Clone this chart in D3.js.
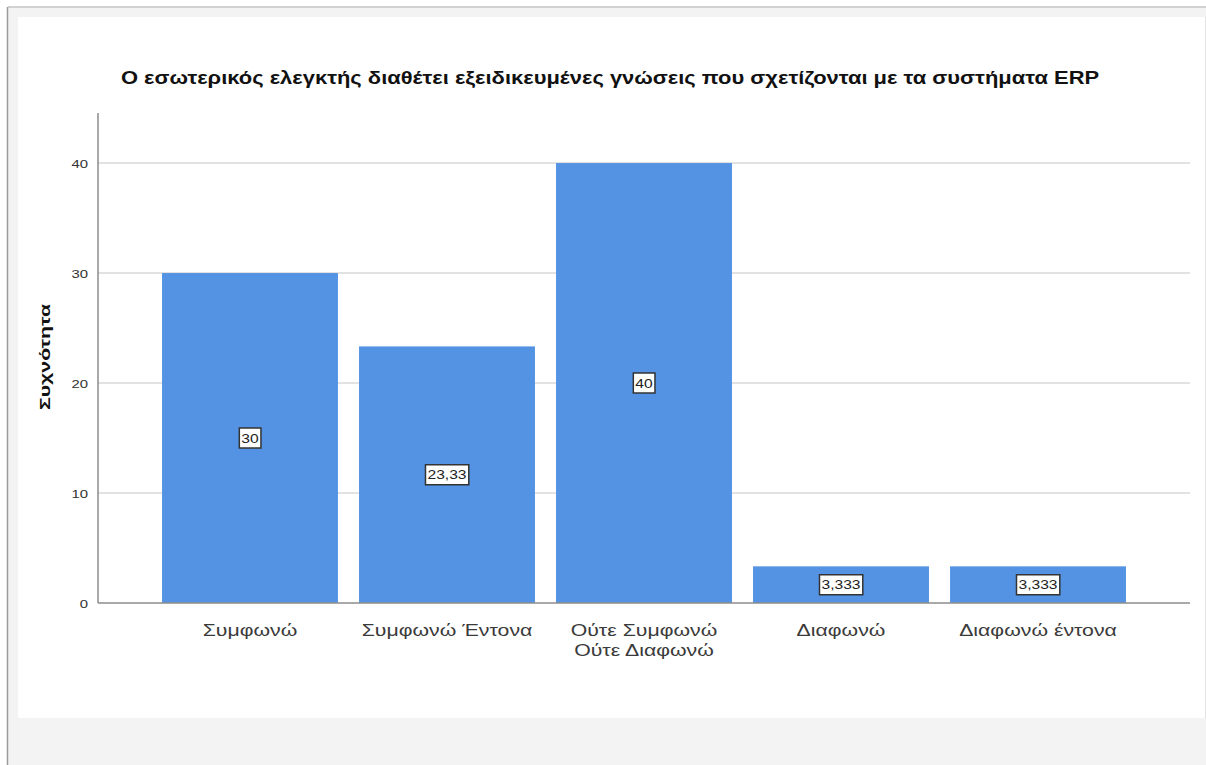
<!DOCTYPE html>
<html>
<head>
<meta charset="utf-8">
<script src="https://cdn.jsdelivr.net/npm/d3@7"></script>
<style>
  html, body { margin: 0; padding: 0; background: #ffffff; }
  svg { display: block; }
</style>
</head>
<body>
<script>
// Chart data
const categories = [
  ["Συμφωνώ"],
  ["Συμφωνώ Έντονα"],
  ["Ούτε Συμφωνώ", "Ούτε Διαφωνώ"],
  ["Διαφωνώ"],
  ["Διαφωνώ έντονα"]
];
const frequencies = [30, 23.33, 40, 3.333, 3.333];
const valueLabels = ["30", "23,33", "40", "3,333", "3,333"];
const yTicks = [0, 10, 20, 30, 40];
const chartTitle = "Ο εσωτερικός ελεγκτής διαθέτει εξειδικευμένες γνώσεις που σχετίζονται με τα συστήματα ERP";
const yTitle = "Συχνότητα";

const W = 1206, H = 765;
const FONT = "Liberation Sans, Arial, sans-serif";
const svg = d3.select("body").append("svg").attr("width", W).attr("height", H);

// Text drawn with a wide horizontal stretch, like the viewer's rendering
function wideText(parent, x, y, str, size, sx, opts = {}) {
  const g = parent.append("g")
    .attr("transform", `translate(${x},${y}) ${opts.rotate ? `rotate(${opts.rotate})` : ""} scale(${sx},1)`);
  const t = g.append("text")
    .attr("x", 0).attr("y", 0)
    .attr("text-anchor", opts.anchor || "middle")
    .attr("font-family", FONT)
    .attr("font-size", size)
    .attr("font-weight", opts.weight || "normal")
    .attr("fill", opts.fill || "#333")
    .text(str);
  return { g, t };
}

// Outer frame: light gray page with a white panel
svg.append("rect").attr("x", 0).attr("y", 0).attr("width", W).attr("height", H).attr("fill", "#ffffff");
svg.append("rect").attr("x", 8).attr("y", 7).attr("width", W - 8).attr("height", H - 7).attr("fill", "#f3f3f3");
svg.append("line").attr("x1", 8).attr("x2", W).attr("y1", 7).attr("y2", 7).attr("stroke", "#c4c4c4").attr("stroke-width", 1.5);
svg.append("line").attr("x1", 7.5).attr("x2", 7.5).attr("y1", 7).attr("y2", H).attr("stroke", "#9a9a9a").attr("stroke-width", 1.5);
svg.append("rect").attr("x", 18).attr("y", 17).attr("width", 1187).attr("height", 701).attr("fill", "#ffffff");
svg.append("line").attr("x1", 1205.5).attr("x2", 1205.5).attr("y1", 17).attr("y2", 718).attr("stroke", "#e6e6e6");

// Plot area
const plot = { left: 98, right: 1190, top: 113, bottom: 603 };

const y = d3.scaleLinear().domain([0, 44.55]).range([plot.bottom, plot.top]);
const x = d3.scaleBand()
  .domain(d3.range(categories.length))
  .range([plot.left, plot.right])
  .paddingInner(0.107)
  .paddingOuter(0.325);

// Horizontal grid lines
svg.append("g")
  .selectAll("line")
  .data(yTicks.filter(t => t > 0))
  .join("line")
  .attr("x1", plot.left).attr("x2", plot.right)
  .attr("y1", d => y(d)).attr("y2", d => y(d))
  .attr("stroke", "#d9d9d9").attr("stroke-width", 1.5);

// Bars
svg.append("g")
  .selectAll("rect")
  .data(frequencies)
  .join("rect")
  .attr("x", (d, i) => x(i))
  .attr("width", x.bandwidth())
  .attr("y", d => y(d))
  .attr("height", d => y(0) - y(d))
  .attr("fill", "#5493e3");

// Y axis: tick positions from d3's axis, labels drawn stretched
const yAxis = d3.axisLeft(y).tickValues(yTicks).tickSize(0).tickFormat(d3.format("d"));
const gy = svg.append("g").attr("transform", `translate(${plot.left},0)`).call(yAxis);
gy.select(".domain").remove();
gy.selectAll(".tick text").remove();
gy.selectAll(".tick").each(function (d) {
  wideText(d3.select(this), -10, 4, d3.format("d")(d), 11, 1.35, { anchor: "end", fill: "#333" });
});
svg.append("line").attr("x1", plot.left).attr("x2", plot.left)
  .attr("y1", plot.top).attr("y2", plot.bottom)
  .attr("stroke", "#8c8c8c").attr("stroke-width", 1.5);

// X baseline
svg.append("line").attr("x1", plot.left).attr("x2", plot.right)
  .attr("y1", y(0)).attr("y2", y(0))
  .attr("stroke", "#8c8c8c").attr("stroke-width", 1.5);

// Category labels
const xl = svg.append("g");
categories.forEach((lines, i) => {
  lines.forEach((ln, j) => {
    wideText(xl, x(i) + x.bandwidth() / 2, 636 + j * 20, ln, 16, 1.33, { fill: "#3a3a3a" });
  });
});

// Value labels in boxes at mid-height of each bar
const vl = svg.append("g");
frequencies.forEach((v, i) => {
  const cx = x(i) + x.bandwidth() / 2;
  const cy = (y(v) + y(0)) / 2;
  const sx = 1.3;
  const { g, t } = wideText(vl, cx, cy, valueLabels[i], 12, sx, { fill: "#222" });
  t.attr("y", 4.5);
  const bb = t.node().getBBox();
  g.insert("rect", "text")
    .attr("x", bb.x - 2 / sx).attr("y", -10)
    .attr("width", bb.width + 4 / sx).attr("height", 20)
    .attr("fill", "#ffffff").attr("stroke", "#333").attr("stroke-width", 1.5)
    .attr("vector-effect", "non-scaling-stroke");
});

// Axis title
wideText(svg, 50, 357, yTitle, 15, 1.42, { rotate: -90, weight: "bold", fill: "#111" });

// Chart title
wideText(svg, 610, 84, chartTitle, 18, 1.22, { weight: "bold", fill: "#111" });
</script>
</body>
</html>
